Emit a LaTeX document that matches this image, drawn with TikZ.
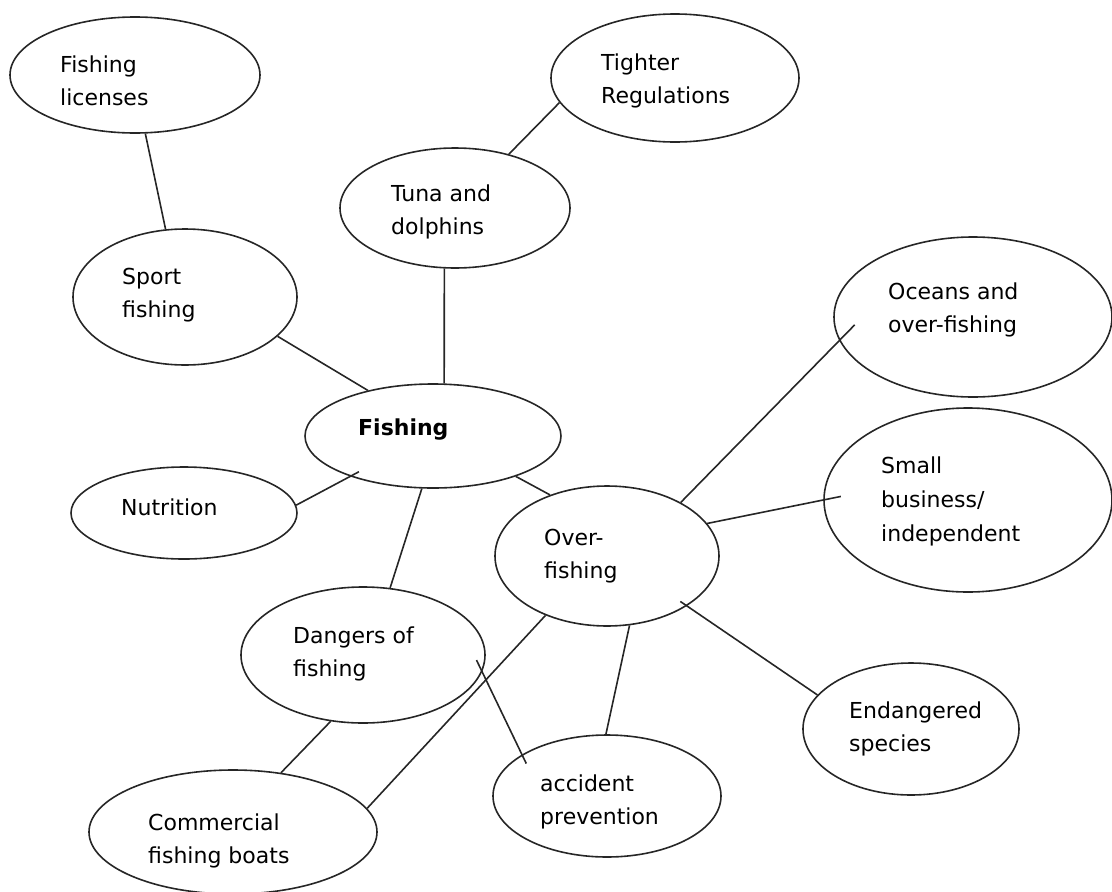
\documentclass[tikz,border=0pt]{standalone}
\usepackage{fontspec}
\setmainfont{DejaVu Sans}
\usetikzlibrary{shapes.geometric}
\tikzset{bubble/.style={draw=black!85,ellipse,line width=1.6pt,inner sep=0pt},
  words/.style={anchor=base west,align=left,inner sep=0pt,font=\fontsize{22}{33}\selectfont},
  link/.style={draw=black!85,line width=1.6pt}}

\begin{document}
\begin{tikzpicture}[x=1pt,y=-1pt,line join=round]
\useasboundingbox (0,0) rectangle (1112,892);
% --- bubbles
\node[bubble,minimum width=250pt,minimum height=116pt] (lic) at (135,75) {};
\node[bubble,minimum width=248pt,minimum height=128pt] (reg) at (675,78) {};
\node[bubble,minimum width=230pt,minimum height=120pt] (tuna) at (455,208) {};
\node[bubble,minimum width=224pt,minimum height=136pt] (sport) at (185,297) {};
\node[bubble,minimum width=256pt,minimum height=104pt] (fish) at (433,436) {};
\node[bubble,minimum width=226pt,minimum height=92pt] (nutr) at (184,513) {};
\node[bubble,minimum width=278pt,minimum height=160pt] (ocean) at (973,317) {};
\node[bubble,minimum width=288pt,minimum height=184pt] (small) at (968,500) {};
\node[bubble,minimum width=224pt,minimum height=140pt] (over) at (607,556) {};
\node[bubble,minimum width=244pt,minimum height=136pt] (dang) at (363,655) {};
\node[bubble,minimum width=216pt,minimum height=132pt] (endg) at (911,729) {};
\node[bubble,minimum width=228pt,minimum height=122pt] (acc) at (607,796) {};
\node[bubble,minimum width=288pt,minimum height=124pt] (comm) at (233,832) {};
% --- texts (base = last line)
\node[words] (lic-t) at (60,105) {Fishing\\licenses};
\node[words] (reg-t) at (601,103) {Tighter\\Regulations};
\node[words] (tuna-t) at (391,234) {Tuna and\\dolphins};
\node[words] (sport-t) at (122,317) {Sport\\fishing};
\node[words,font=\fontsize{22}{33}\selectfont\bfseries] (fish-t) at (358,435) {Fishing};
\node[words] (nutr-t) at (121,515) {Nutrition};
\node[words] (ocean-t) at (888,332) {Oceans and\\over-fishing};
\node[words,font=\fontsize{22}{34}\selectfont] (small-t) at (881,541) {Small\\business/\\independent};
\node[words] (over-t) at (544,578) {Over-\\fishing};
\node[words] (dang-t) at (293,676) {Dangers of\\fishing};
\node[words] (endg-t) at (849,751) {Endangered\\species};
\node[words] (acc-t) at (540,824) {accident\\prevention};
\node[words] (comm-t) at (148,863) {Commercial\\fishing boats};
% --- links (some run into the bubbles)
\draw[link] (lic.-80) -- (sport.106);
\draw[link] (reg.192) -- (tuna.45);
\draw[link] (tuna.-100) -- (fish.78);
\draw[link] (sport.-23) -- (fish.145);
\draw[link,shorten >=-10pt] (nutr.4) -- (fish.206);
\draw[link] (fish.-26) -- (over.133);
\draw[link] (fish.-102) -- (dang.68);
\draw[link,shorten >=-22pt] (over.36) -- (ocean.190);
\draw[link,shorten >=-18pt] (over.18) -- (small.180);
\draw[link,shorten <=-8pt] (over.-32) -- (endg.160);
\draw[link] (over.-72) -- (acc.91);
\draw[link] (over.224) -- (comm.10);
\draw[link,shorten <=-13pt,shorten >=-10pt] (dang.-8) -- (acc.154);
\draw[link] (dang.244) -- (comm.51);
\end{tikzpicture}
\end{document}
